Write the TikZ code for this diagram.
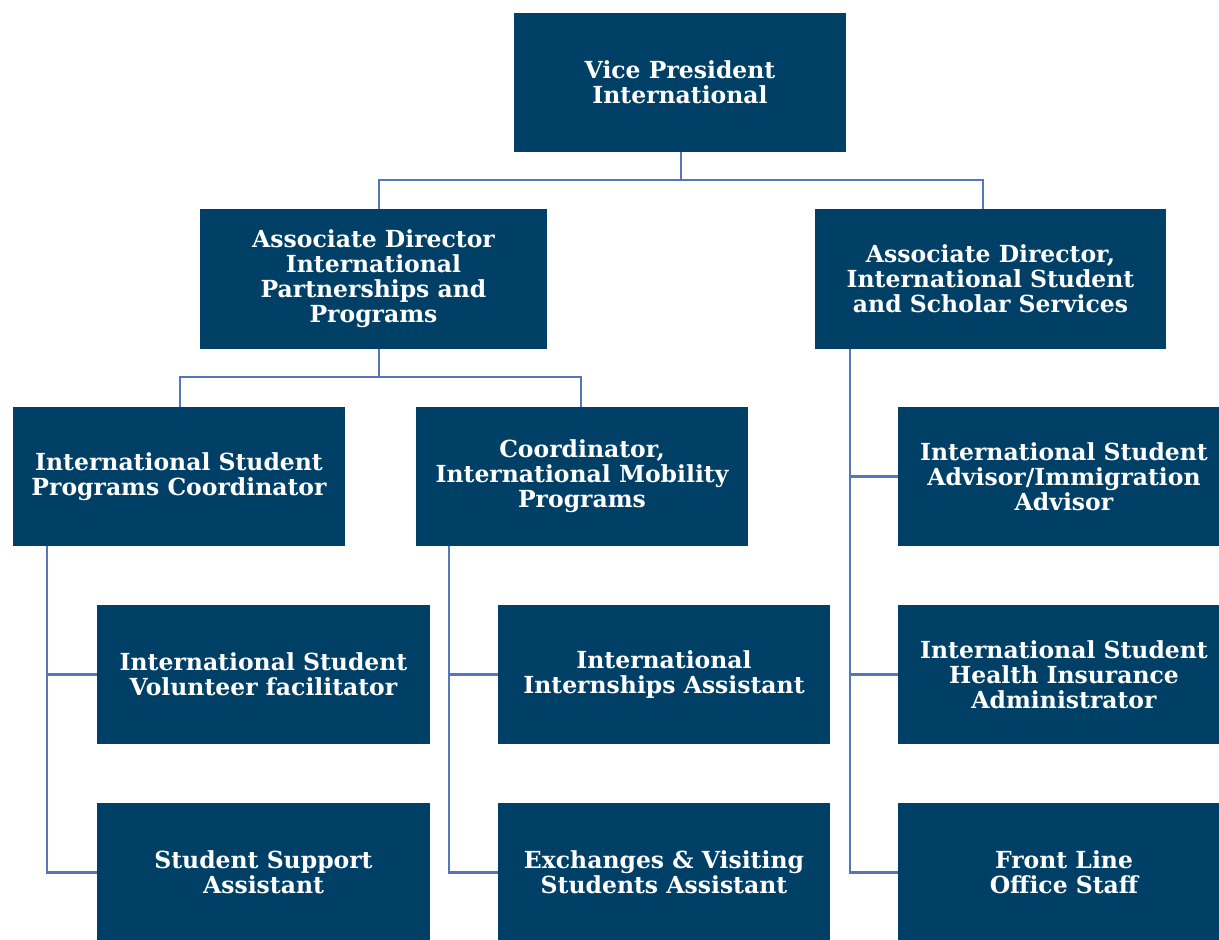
\documentclass[tikz,border=0pt]{standalone}
\usepackage{fontspec}
\setmainfont{DejaVu Serif}
\definecolor{boxblue}{RGB}{0,64,103}
\definecolor{linkblue}{RGB}{84,118,188}
\begin{document}
\begin{tikzpicture}[x=1pt,y=-1pt,
  box/.style={draw=none,fill=boxblue,text=white,minimum width=332pt,minimum height=139pt,
    inner sep=0pt,align=center,font=\fontsize{23.5}{25}\selectfont\bfseries},
  link/.style={draw=linkblue,line width=2.5pt}]
\useasboundingbox (0,0) rectangle (1219,940);
\begin{scope}
\clip (0,0) rectangle (1219,940);
\node[box] (vp) at (680,82.5) {Vice President\\International};
\node[box,minimum width=347pt,minimum height=140pt] (ad1) at (373.5,279) {Associate Director\\International\\Partnerships and\\Programs};
\node[box,minimum width=351pt,minimum height=140pt] (ad2) at (990.5,279) {Associate Director,\\International Student\\and Scholar Services};
\node[box] (ispc) at (179,476.5) {International Student\\Programs Coordinator};
\node[box] (coord) at (582,476.5) {Coordinator,\\International Mobility\\Programs};
\node[box] (adv) at (1064,476.5) {International Student\\Advisor/Immigration\\Advisor};
\node[box,minimum width=333pt] (vol) at (263.5,674.5) {International Student\\Volunteer facilitator};
\node[box] (intern) at (664,674.5) {International\\Internships Assistant};
\node[box] (health) at (1064,674.5) {International Student\\Health Insurance\\Administrator};
\node[box,minimum width=333pt] (ssa) at (263.5,872.5) {Student Support\\Assistant};
\node[box] (exch) at (664,872.5) {Exchanges \& Visiting\\Students Assistant};
\node[box] (front) at (1064,872.5) {Front Line\\Office Staff};
\end{scope}
\coordinate (j1) at (681,180);
\coordinate (j2) at (379,377);
\draw[link] ([xshift=1pt]vp.south) -- (j1);
\draw[link] ([xshift=5.5pt]ad1.north) |- (j1) -| ([xshift=-7.5pt]ad2.north);
\draw[link] ([xshift=5.5pt]ad1.south) -- (j2);
\draw[link] ([xshift=1pt]ispc.north) |- (j2) -| ([xshift=-1pt]coord.north);
\draw[link] ([xshift=34pt]ispc.south west) |- (vol.west);
\draw[link] ([xshift=34pt]ispc.south west) |- (ssa.west);
\draw[link] ([xshift=33pt]coord.south west) |- (intern.west);
\draw[link] ([xshift=33pt]coord.south west) |- (exch.west);
\draw[link] ([xshift=35pt]ad2.south west) |- (adv.west);
\draw[link] ([xshift=35pt]ad2.south west) |- (health.west);
\draw[link] ([xshift=35pt]ad2.south west) |- (front.west);
\end{tikzpicture}
\end{document}
